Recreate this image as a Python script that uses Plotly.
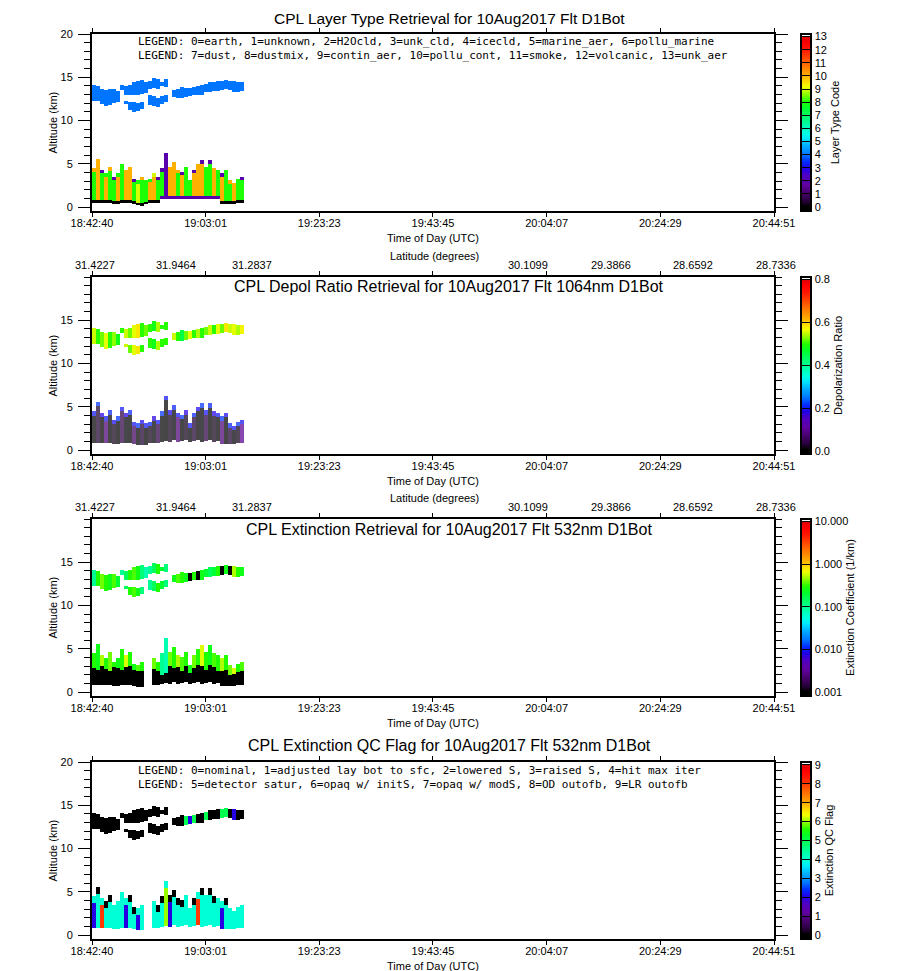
import numpy as np
import plotly.graph_objects as go

nan = float("nan")

# ---------------- axis / label data ----------------
time_ticks = ["18:42:40", "19:03:01", "19:23:23", "19:43:45", "20:04:07", "20:24:29", "20:44:51"]
lat_labels = ["31.4227", "31.9464", "31.2837", "30.1099", "29.3866", "28.6592", "28.7336"]
lat_times = ["18:43:12", "18:57:44", "19:11:23", "20:00:44", "20:15:37", "20:30:20", "20:45:14"]
profile_start = "18:42:40"
profile_sec = 43.0

# ---------------- layer boundaries per profile (km) ----------------
ci_top = [14.1, 14.0, 13.6, 13.5, 13.7, 13.6, 13.4, 14.1, 14.0, 14.1, 14.4, 14.6, 14.7, 14.5, 14.6, 14.9, 14.8, 14.4, 14.8, nan,
          13.5, 13.7, 13.9, 13.8, 13.8, 13.9, 14.0, 14.1, 14.2, 14.4, 14.5, 14.6, 14.6, 14.7, 14.6, 14.6, 14.5, 14.5]
ci_bot = [12.3, 12.3, 11.9, 11.7, 11.8, 12.0, 12.2, 13.5, 13.0, 12.9, 13.0, 13.0, 13.1, 13.2, 13.6, 13.8, 13.7, 14.0, 13.9, nan,
          12.7, 12.6, 12.6, 12.7, 12.8, 12.9, 12.9, 13.0, 13.3, 13.3, 13.4, 13.4, 13.5, 13.6, 13.5, 13.3, 13.3, 13.4]
cl_top = [nan, nan, nan, nan, nan, nan, nan, nan, 12.3, 12.2, 12.1, 12.0, 12.2, nan, 12.9, 12.8, 12.6, 12.8, 12.9, nan,
          nan, nan, nan, nan, nan, nan, nan, nan, nan, nan, nan, nan, nan, nan, nan, nan, nan, nan]
cl_bot = [nan, nan, nan, nan, nan, nan, nan, nan, 11.9, 11.2, 11.0, 11.1, 11.3, nan, 11.8, 11.7, 11.6, 11.9, 12.2, nan,
          nan, nan, nan, nan, nan, nan, nan, nan, nan, nan, nan, nan, nan, nan, nan, nan, nan, nan]
ae_top = [4.5, 5.6, 4.3, 3.9, 4.6, 3.5, 3.9, 5.0, 4.3, 4.6, 3.3, 3.1, 3.5, 3.1, 3.3, 3.9, 3.5, 4.5, 6.3, 4.6,
          5.2, 4.3, 4.1, 4.6, 3.1, 4.3, 5.0, 5.4, 4.6, 5.4, 4.5, 4.3, 3.9, 4.3, 3.1, 2.8, 3.3, 3.5]
ae_bot = [0.85, 0.85, 0.85, 0.85, 0.8, 0.75, 0.75, 0.8, 0.85, 0.85, 0.7, 0.6, 0.6, 0.65, 0.8, 0.8, 0.85, 1.0, 1.1, 1.0,
          1.2, 1.0, 1.1, 1.2, 1.0, 1.1, 1.2, 1.0, 1.1, 1.2, 1.0, 1.1, 0.75, 0.75, 0.7, 0.75, 0.8, 0.85]
sfc_alt = [0.85, 0.85, 0.85, 0.85, 0.8, 0.75, 0.75, 0.8, 0.85, 0.85, 0.7, 0.55, 0.5, 0.65, 0.8, 0.8, 0.85, 1.35, 1.35, 1.35,
           1.35, 1.35, 1.35, 1.35, 1.35, 1.35, 1.35, 1.35, 1.35, 1.35, 1.35, 1.35, 0.7, 0.75, 0.7, 0.75, 0.8, 0.85]
sfc_code = [0] * 17 + [2] * 15 + [0] * 6

# ---------------- retrieved quantities per profile ----------------
ae_code = [8, 10, 8, 10, 8, 8, 10, 8, 10, 10, 8, 9, 8, 8, 10, 10, 8, 8, 2, 10,
           10, 8, 10, 8, 8, 10, 10, 10, 8, 8, 10, 8, 10, 8, 8, 10, 8, 8]
ae_cap = [10, 10, 2, 8, 10, 2, 8, 8, 10, 10, 2, 8, 10, 8, 8, 9, 2, 2, 2, 10,
          10, 10, 2, 8, 8, 2, 10, 2, 8, 2, 10, 8, 2, 8, 10, 10, 8, 2]

dp_ci = [0.55, 0.50, 0.52, 0.56, 0.50, 0.53, 0.48, 0.50, 0.55, 0.52, 0.56, 0.58, 0.50, 0.52, 0.50, 0.48, 0.54, 0.50, 0.50, nan,
         0.55, 0.50, 0.45, 0.52, 0.56, 0.50, 0.54, 0.50, 0.52, 0.55, 0.50, 0.56, 0.52, 0.58, 0.55, 0.56, 0.54, 0.57]
dp_ae = [0.01, 0.03, 0.0, 0.08, 0.01, 0.02, 0.0, 0.04, 0.01, 0.0, 0.06, 0.01, 0.03, 0.0, 0.02, 0.01, 0.04, 0.01, 0.0, 0.02,
         0.01, 0.08, 0.0, 0.02, 0.01, 0.03, 0.0, 0.01, 0.04, 0.0, 0.02, 0.01, 0.08, 0.0, 0.03, 0.01, 0.02, 0.1]
dp_rim = [0.20, 0.22, 0.18, 0.20, 0.21, 0.19, 0.22, 0.20, 0.18, 0.21, 0.20, 0.22, 0.19, 0.20, 0.21, 0.18, 0.20, 0.22, 0.20, 0.19,
          0.21, 0.20, 0.22, 0.18, 0.20, 0.21, 0.19, 0.22, 0.20, 0.21, 0.18, 0.20, 0.22, 0.19, 0.21, 0.20, 0.22, 0.20]

ex_ci = [0.10, 0.30, 0.40, 0.30, 0.25, 0.35, 0.20, 0.10, 0.15, 0.30, 0.35, 0.25, 0.12, 0.08, 0.10, 0.15, 0.30, 0.20, 0.12, nan,
         0.25, 0.35, 0.30, 0.25, 0.0005, 0.30, 0.0005, 0.25, 0.20, 0.15, 0.20, 0.30, 0.0005, 0.25, 0.0005, 0.50, 0.30, 0.25]
ex_ae = [0.30, 0.25, 0.50, 0.30, 0.40, 0.30, 0.25, 0.30, 0.60, 0.30, 0.25, 0.35, 0.30, nan, nan, 0.40, 0.30, 0.10, 0.08, 0.40,
         0.30, 0.50, 0.35, 0.30, 0.25, 0.40, 0.30, 0.60, 0.30, 0.25, 0.35, 0.30, 0.50, 0.30, 0.40, 0.60, 0.30, 0.35]
ex_blk = [2.8, 2.6, 3.0, 2.7, 2.5, 2.9, 2.8, 2.6, 2.9, 3.0, 2.6, 2.4, 2.5, nan, nan, 2.7, 2.5, 2.0, 2.2, 3.0,
          2.8, 2.9, 2.5, 3.0, 2.2, 2.8, 3.2, 3.0, 2.6, 3.2, 2.9, 2.5, 2.4, 2.6, 2.0, 2.1, 2.3, 2.4]

qc_ci = [0, 0, 0, 0, 0, 0, 0, 0, 0, 0, 0, 0, 0, 0, 0, 0, 0, 0, 0, nan,
         0, 0, 0, 5, 2, 5, 0, 0, 5, 0, 0, 0, 5, 5, 0, 2, 0, 0]
qc_ae = [2, 4, 8, 4, 4, 4, 4, 4, 2, 4, 4, 2, 4, nan, nan, 4, 4, 4, 6, 2,
         4, 4, 4, 4, 4, 4, 8, 4, 4, 4, 4, 4, 2, 4, 4, 4, 4, 4]
qc_cap = [4, 0, 4, 0, 0, 4, 4, 4, 4, 0, 0, 4, 4, nan, nan, 4, 0, 0, 4, 0,
          0, 0, 0, 4, 4, 0, 4, 0, 4, 0, 0, 4, 4, 0, 4, 4, 4, 4]

# ---------------- helpers ----------------
def hms(s):
    h, m, sec = (int(v) for v in s.split(":"))
    return h * 3600 + m * 60 + sec

T0, T1 = hms(time_ticks[0]), hms(time_ticks[-1])
ncol = len(ci_top)
xc = hms(profile_start) + (np.arange(ncol) + 0.5) * profile_sec
yc = np.round(np.arange(-0.45, 16.0, 0.1), 3)

def band(Z, i, bot, top, val):
    if any(np.isnan(v) for v in (bot, top, val)):
        return
    m = (yc >= bot) & (yc < top)
    Z[m, i] = val

def empty():
    return np.full((len(yc), ncol), np.nan)

Z1, Z2c, Z2a, Z3, Z4 = empty(), empty(), empty(), empty(), empty()
for i in range(ncol):
    band(Z1, i, ci_bot[i], ci_top[i], 4)
    band(Z1, i, cl_bot[i], cl_top[i], 4)
    band(Z1, i, sfc_alt[i], ae_top[i], ae_code[i])
    band(Z1, i, ae_top[i] - 0.4, ae_top[i], ae_cap[i])
    band(Z1, i, sfc_alt[i] - 0.3, sfc_alt[i], sfc_code[i])
    band(Z2c, i, ci_bot[i], ci_top[i], dp_ci[i])
    band(Z2c, i, cl_bot[i], cl_top[i], dp_ci[i])
    band(Z2a, i, ae_bot[i], ae_top[i], dp_ae[i])
    band(Z2a, i, ae_top[i] - 0.5, ae_top[i], dp_rim[i])
    band(Z3, i, ci_bot[i], ci_top[i], np.log10(ex_ci[i]))
    band(Z3, i, cl_bot[i], cl_top[i], np.log10(ex_ci[i]))
    band(Z3, i, ae_bot[i], ex_blk[i], -3.5)
    band(Z3, i, ex_blk[i], ae_top[i], np.log10(ex_ae[i]))
    band(Z4, i, ci_bot[i], ci_top[i], qc_ci[i])
    band(Z4, i, cl_bot[i], cl_top[i], qc_ci[i])
    band(Z4, i, ae_bot[i], ae_top[i], qc_ae[i])
    band(Z4, i, ae_top[i] - 0.8, ae_top[i], qc_cap[i])

rainbow = [
    [0.00, "#000000"], [0.025, "#000000"], [0.06, "#2a0040"], [0.10, "#46006a"], [0.15, "#6000a0"],
    [0.20, "#5000c0"], [0.24, "#2000e8"], [0.28, "#0030ff"], [0.32, "#0078ff"],
    [0.37, "#00b0ff"], [0.41, "#00e8ff"], [0.44, "#00ffe0"], [0.48, "#00ffb0"],
    [0.53, "#00ff70"], [0.58, "#00ff30"], [0.62, "#20ff00"], [0.66, "#90ff00"],
    [0.70, "#f0ff00"], [0.73, "#ffdc00"], [0.77, "#ffa800"], [0.81, "#ff8000"],
    [0.86, "#ff4c00"], [0.91, "#ff1800"], [0.95, "#ff0000"], [0.984, "#e00000"],
    [0.985, "#ffffff"], [1.00, "#ffffff"],
]

# page offset (browser body margin) so reference pixel positions line up
OFF = 8
W, H = 900 - OFF, 971 - OFF
def fx(px): return (px - OFF) / W
def fy(py): return 1 - (py - OFF) / H

frame_left, frame_right = 92, 774
panel_top = [34, 277, 519, 762]
panel_bot = [211, 454, 696, 939]

def tpx(t):
    return frame_left + (t - T0) / (T1 - T0) * (frame_right - frame_left)

fig = go.Figure()
traces = [(Z1, 0, 1.0), (Z2c, 1, 1.0), (Z2a, 1, 0.72), (Z3, 2, 1.0), (Z4, 3, 1.0)]
for Z, p, op in traces:
    fig.add_trace(go.Heatmap(
        x=xc, y=yc, z=Z, zsmooth=False, hoverinfo="skip", opacity=op,
        coloraxis="coloraxis" if p == 0 else f"coloraxis{p+1}",
        xaxis="x" if p == 0 else f"x{p+1}",
        yaxis="y" if p == 0 else f"y{p+1}",
    ))

cb_defs = [
    dict(cmin=-0.3, cmax=13.2, tickvals=list(range(14)), ticktext=[str(v) for v in range(14)], title="Layer Type Code"),
    dict(cmin=-0.012, cmax=0.81, tickvals=[0, 0.2, 0.4, 0.6, 0.8], ticktext=["0.0", "0.2", "0.4", "0.6", "0.8"], title="Depolarization Ratio"),
    dict(cmin=-3.09, cmax=1.06, tickvals=[-3, -2, -1, 0, 1], ticktext=["0.001", "0.010", "0.100", "1.000", "10.000"], title="Extinction Coefficient (1/km)"),
    dict(cmin=-0.2, cmax=9.15, tickvals=list(range(10)), ticktext=[str(v) for v in range(10)], title="Extinction QC Flag"),
]

layout = dict(
    width=W, height=H, margin=dict(l=0, r=0, t=0, b=0, autoexpand=False),
    paper_bgcolor="white", plot_bgcolor="white", showlegend=False,
    font=dict(family="Liberation Sans", size=11, color="black"),
)

def ann(x, y, text, size=11, xanchor="center", yanchor="middle", family=None, angle=0):
    f = dict(size=size)
    if family:
        f["family"] = family
    return dict(x=x, y=y, xref="paper", yref="paper", text=text, showarrow=False,
                xanchor=xanchor, yanchor=yanchor, textangle=angle, font=f, align="left")

annotations = []
for p in range(4):
    sfx = "" if p == 0 else str(p + 1)
    dom = [fy(panel_bot[p]), fy(panel_top[p])]
    layout["xaxis" + sfx] = dict(
        domain=[fx(frame_left), fx(frame_right)], anchor="y" + sfx, range=[T0, T1],
        tickvals=[hms(t) for t in time_ticks], ticktext=time_ticks,
        ticks="outside", ticklen=4, tickwidth=1, tickcolor="black",
        showline=True, linewidth=2, linecolor="black", mirror="ticks",
        showgrid=False, zeroline=False, tickfont=dict(size=11), ticklabelstandoff=-3,
    )
    yt = [0, 5, 10, 15, 20] if p in (0, 3) else [0, 5, 10, 15]
    layout["yaxis" + sfx] = dict(
        domain=dom, anchor="x" + sfx, range=[-0.46, 20],
        tickvals=yt, ticktext=[str(v) for v in yt],
        ticks="outside", ticklen=12, tickwidth=1, tickcolor="black",
        minor=dict(dtick=1, tick0=0, ticks="outside", ticklen=6, tickcolor="black"),
        showline=True, linewidth=2, linecolor="black", mirror="ticks",
        showgrid=False, zeroline=False, tickfont=dict(size=11), ticklabelstandoff=3,
    )
    cd = cb_defs[p]
    layout["coloraxis" + sfx] = dict(
        colorscale=rainbow, cmin=cd["cmin"], cmax=cd["cmax"],
        colorbar=dict(
            x=fx(801), xanchor="left", xpad=0, ypad=0,
            y=(dom[0] + dom[1]) / 2, yanchor="middle",
            len=dom[1] - dom[0], lenmode="fraction",
            thickness=10, thicknessmode="pixels",
            outlinewidth=2, outlinecolor="black",
            tickvals=cd["tickvals"], ticktext=cd["ticktext"],
            ticks="inside", ticklen=10, tickwidth=1, tickcolor="black",
            tickfont=dict(size=11),
            title=dict(text=cd["title"], side="right", font=dict(size=11)),
        ),
    )
    annotations.append(ann(fx(52), fy((panel_top[p] + panel_bot[p]) / 2), "Altitude (km)", angle=-90))
    annotations.append(ann(fx(433), fy(panel_bot[p] + 27), "Time of Day (UTC)"))

titles = [
    ("CPL Layer Type Retrieval for 10Aug2017 Flt D1Bot", 14),
    ("CPL Depol Ratio Retrieval for 10Aug2017 Flt 1064nm D1Bot", 287),
    ("CPL Extinction Retrieval for 10Aug2017 Flt 532nm D1Bot", 529),
    ("CPL Extinction QC Flag for 10Aug2017 Flt 532nm D1Bot", 745),
]
for k, (txt, ypx) in enumerate(titles):
    if k == 0:
        annotations.append(ann(fx(449), 1.0, txt, size=15.5, yanchor="top"))
    else:
        annotations.append(ann(fx(449), fy(ypx), txt, size=16))

legend_blocks = [
    (["LEGEND: 0=earth, 1=unknown, 2=H2Ocld, 3=unk_cld, 4=icecld, 5=marine_aer, 6=pollu_marine",
      "LEGEND: 7=dust, 8=dustmix, 9=contin_aer, 10=pollu_cont, 11=smoke, 12=volcanic, 13=unk_aer"], 48.5),
    (["LEGEND: 0=nominal, 1=adjusted lay bot to sfc, 2=lowered S, 3=raised S, 4=hit max iter",
      "LEGEND: 5=detector satur, 6=opaq w/ initS, 7=opaq w/ modS, 8=OD outofb, 9=LR outofb"], 777.5),
]
for lines, ypx in legend_blocks:
    annotations.append(ann(fx(136), fy(ypx), "<br>".join(lines), xanchor="left", family="DejaVu Sans Mono"))

for p in (1, 2):
    annotations.append(ann(fx(434), fy(panel_top[p] - 21), "Latitude (degrees)"))
    for lab, t in zip(lat_labels, lat_times):
        annotations.append(ann(fx(tpx(hms(t))), fy(panel_top[p] - 12), lab))

layout["annotations"] = annotations
fig.update_layout(**layout)
fig.write_html("out.html")
